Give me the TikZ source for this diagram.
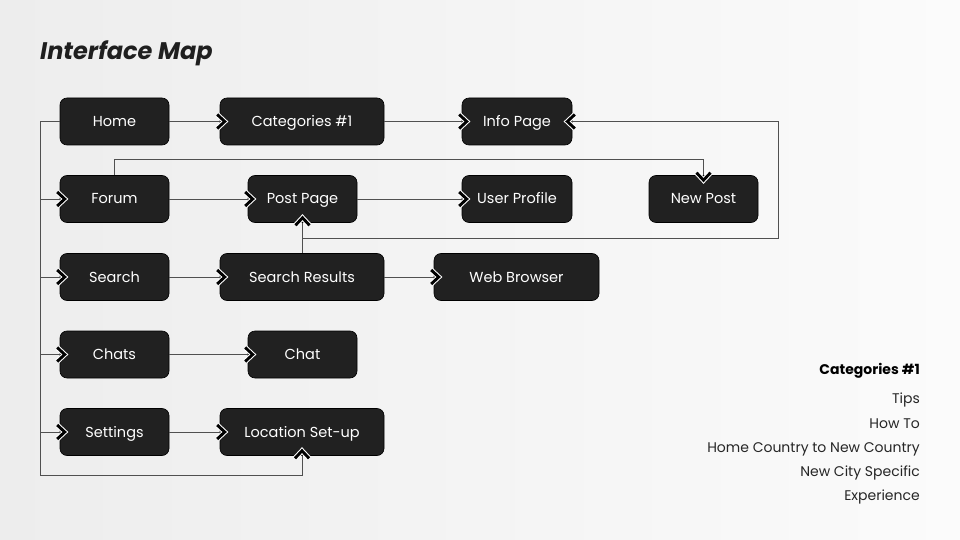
\documentclass[tikz,border=0pt]{standalone}
\usepackage{fontspec}
\setmainfont{Poppins}
\definecolor{nodefill}{HTML}{212121}
\definecolor{linec}{HTML}{505050}
\definecolor{bgl}{HTML}{EDEDED}
\definecolor{bgr}{HTML}{FBFBFB}
\tikzset{
  box/.style={draw=black, line width=0.6pt, fill=nodefill, rounded corners=7pt, text=white,
    minimum height=47pt, inner sep=0pt, text height=12pt, text depth=2pt,
    font=\fontsize{14.5}{16}\selectfont},
  wbox/.style={box, minimum width=164pt},
  nbox/.style={box, minimum width=109pt},
  conn/.style={draw=linec, line width=0.9pt},
  chev/.pic={
    \draw[white, line width=5pt, miter limit=10] (-2.5,-7) -- (5,0) -- (-2.5,7);
    \draw[black, line width=2.9pt, miter limit=10] (-2.5,-7) -- (5,0) -- (-2.5,7);
  },
  side/.style={anchor=base east, inner sep=0pt, font=\fontsize{14}{16}\selectfont, text=black!85}
}
\begin{document}
\begin{tikzpicture}[x=1pt,y=-1pt]
\shade[left color=bgl, right color=bgr] (0,0) rectangle (960,540);
\useasboundingbox (0,0) rectangle (960,540);

\node[anchor=base west, inner sep=0pt, font=\bfseries\itshape\fontsize{24}{28}\selectfont, text=black!88] (title) at (40,60) {Interface Map};

% nodes
\node[nbox] (home) at (114.5,121.5) {Home};
\node[wbox] (cat) at (302,121.5) {Categories \#1};
\node[box, minimum width=110pt] (info) at (517,121.5) {Info Page};

\node[nbox] (forum) at (114.5,199) {Forum};
\node[nbox] (ppage) at (302.5,199) {Post Page};
\node[box, minimum width=110pt] (user) at (517,199) {User Profile};
\node[nbox] (newpost) at (703.5,199) {New Post};

\node[nbox] (search) at (114.5,277) {Search};
\node[wbox] (sres) at (302,277) {Search Results};
\node[box, minimum width=165pt] (web) at (516.5,277) {Web Browser};

\node[nbox] (chats) at (114.5,354.5) {Chats};
\node[nbox] (chat) at (302.5,354.5) {Chat};

\node[nbox] (settings) at (114.5,432) {Settings};
\node[wbox] (loc) at (302,432) {Location Set-up};

% helper coordinates
\coordinate (trunk) at (40,0);
\coordinate (bot) at (40,475);
\coordinate (rt) at (778,238);

% connectors
\draw[conn] (home.west) -- (home.west -| trunk) -- (bot) -| (loc.south);
\draw[conn] (forum.west -| trunk) -- (forum.west);
\draw[conn] (search.west -| trunk) -- (search.west);
\draw[conn] (chats.west -| trunk) -- (chats.west);
\draw[conn] (settings.west -| trunk) -- (settings.west);

\draw[conn] (home.east) -- (cat.west);
\draw[conn] (cat.east) -- (info.west);
\draw[conn] (forum.east) -- (ppage.west);
\draw[conn] (ppage.east) -- (user.west);
\draw[conn] (search.east) -- (sres.west);
\draw[conn] (sres.east) -- (web.west);
\draw[conn] (chats.east) -- (chat.west);
\draw[conn] (settings.east) -- (loc.west);

\draw[conn] (forum.north) -- ++(0,-16) -| (newpost.north);
\draw[conn] (sres.north) -- (sres.north |- ppage.south);
\draw[conn] (sres.north |- rt) -- (rt) |- (info.east);

% arrowheads (chevrons)
\foreach \n in {cat,info,forum,ppage,user,search,sres,web,chats,chat,settings,loc}{
  \pic at (\n.west) {chev};
}
\pic[rotate=-90] at (newpost.north) {chev};
\pic[rotate=90] at (loc.south) {chev};
\pic[rotate=90] at (ppage.south) {chev};
\pic[rotate=180] at (info.east) {chev};

% side legend
\node[side, font=\bfseries\fontsize{14}{16}\selectfont, text=black] (legt) at (920,374) {Categories \#1};
\node[side] (l1) at (920,403) {Tips};
\node[side] (l2) at (920,428) {How To};
\node[side] (l3) at (920,452) {Home Country to New Country};
\node[side] (l4) at (920,476) {New City Specific};
\node[side] (l5) at (920,500) {Experience};
\end{tikzpicture}
\end{document}
